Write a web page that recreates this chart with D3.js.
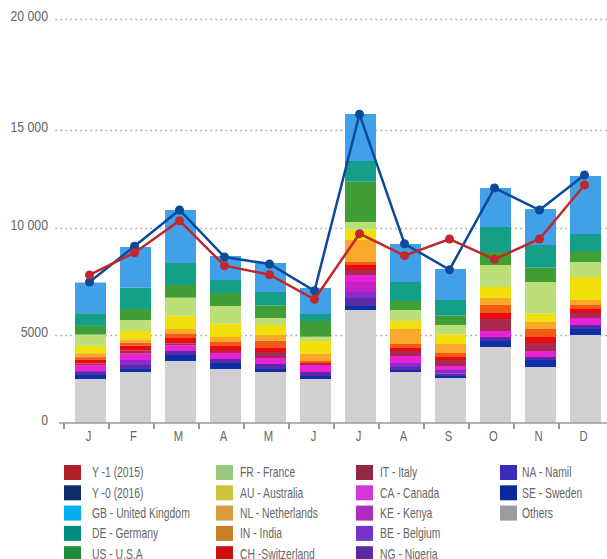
<!DOCTYPE html>
<html>
<head>
<meta charset="utf-8">
<script src="https://cdn.jsdelivr.net/npm/d3@7"></script>
<style>
body { margin: 0; background: #fff; }
svg text { font-family: "Liberation Sans", Arial, sans-serif; fill: #666; }
</style>
</head>
<body>
<svg id="chart" width="607" height="559"></svg>
<script>
'use strict';

// months
var monthKeys = ['Jan', 'Feb', 'Mar', 'Apr', 'May', 'Jun', 'Jul', 'Aug', 'Sep', 'Oct', 'Nov', 'Dec'];
var monthLabels = ['J', 'F', 'M', 'A', 'M', 'J', 'J', 'A', 'S', 'O', 'N', 'D'];

var yTicks = [0, 5000, 10000, 15000, 20000];
var yTickLabels = ['0', '5000', '10 000', '15 000', '20 000'];

// lines
var yearPrev = [7804, 8846, 10372, 8238, 7818, 6668, 9734, 8706, 9486, 8537, 9486, 12194]; // Y -1 (2015)
var yearCur = [7477, 9145, 10918, 8645, 8318, 7070, 15707, 9266, 8051, 12041, 10918, 12704]; // Y -0 (2016)

// stacked countries, bottom to top
var others = [2500, 2898, 3523, 3068, 2898, 2500, 6168, 2898, 2557, 4318, 3182, 5000];
var se = [227, 170, 341, 341, 170, 171, 187, 113, 114, 341, 398, 280];
var na = [0, 0, 0, 0, 0, 0, 0, 0, 0, 0, 0, 0];
var ng = [220, 228, 227, 227, 284, 227, 374, 171, 153, 228, 170, 187];
var be = [0, 284, 0, 0, 0, 0, 280, 227, 187, 0, 0, 0];
var ke = [0, 0, 0, 0, 0, 0, 468, 0, 0, 0, 0, 0];
var ca = [340, 358, 324, 341, 341, 398, 327, 398, 228, 300, 341, 327];
var it = [95, 170, 114, 114, 341, 57, 233, 284, 341, 561, 455, 234];
var ch = [205, 284, 301, 284, 227, 57, 234, 170, 170, 280, 341, 187];
var inn = [153, 171, 217, 227, 415, 114, 140, 228, 227, 374, 393, 187];
var nl = [227, 193, 233, 285, 324, 398, 1028, 791, 512, 327, 327, 234];
var au = [415, 431, 622, 641, 467, 738, 482, 374, 544, 514, 388, 1074];
var fr = [641, 514, 841, 827, 327, 245, 385, 514, 434, 1028, 1482, 701];
var us = [402, 514, 594, 608, 594, 750, 2056, 421, 435, 608, 668, 514];
var de = [593, 995, 1028, 607, 621, 327, 1056, 888, 734, 1172, 1061, 795];
var gb = [1434, 1902, 2553, 1122, 1356, 1215, 2303, 1775, 1448, 1990, 1763, 2933];

var seriesKeys = ['Others', 'SE', 'NA', 'NG', 'BE', 'KE', 'CA', 'IT', 'CH', 'IN', 'NL', 'AU', 'FR', 'US', 'DE', 'GB'];
var seriesValues = [others, se, na, ng, be, ke, ca, it, ch, inn, nl, au, fr, us, de, gb];
var barColors = ['#d1cfd1', '#0a2fa8', '#3a2cb4', '#5a2aa8', '#8a2ccc', '#c820c8', '#e922d8', '#a92a4e',
    '#e80c12', '#f05a14', '#f8a82a', '#f2e00c', '#bcdf78', '#3f9e36', '#159e88', '#42a0e8'];

// legend, column by column
var legendLabels = ['Y -1 (2015)', 'Y -0 (2016)', 'GB - United Kingdom', 'DE - Germany', 'US - U.S.A',
    'FR - France', 'AU - Australia', 'NL - Netherlands', 'IN - India', 'CH -Switzerland',
    'IT - Italy', 'CA - Canada', 'KE - Kenya', 'BE - Belgium', 'NG - Nigeria',
    'NA - Namil', 'SE - Sweden', 'Others'];
var legendColors = ['#b01e26', '#0c2d6c', '#00b0f0', '#008c80', '#1e8c3a',
    '#98c87c', '#ccc43a', '#d89e3c', '#c87e22', '#cc1010',
    '#902840', '#d038d8', '#b02cc0', '#7434cc', '#5a2ca0',
    '#3a2cb8', '#0a2a9c', '#9c9ca0'];

var svg = d3.select('#chart');

var x = d3.scaleBand()
    .domain(monthKeys)
    .range([64, 612])
    .paddingInner(0.311)
    .paddingOuter(0.2445);

var y = d3.scaleLinear()
    .domain(yTicks)
    .range([423, 335, 228, 130, 19]);

// dotted grid
svg.append('g')
    .attr('transform', 'translate(607,0)')
    .call(d3.axisLeft(y).tickValues(yTicks.slice(1)).tickSize(555).tickFormat(''))
    .call(function(g) { g.select('.domain').remove(); })
    .selectAll('line')
        .attr('stroke', '#aaa')
        .attr('stroke-width', 1.7)
        .attr('stroke-dasharray', '1.7,3.3');

// y labels (condensed look)
svg.append('g')
    .attr('transform', 'translate(48,-3)')
    .call(d3.axisLeft(y).tickValues(yTicks).tickSize(0).tickPadding(0)
        .tickFormat(function(d, i) { return yTickLabels[i]; }))
    .call(function(g) { g.select('.domain').remove(); })
    .selectAll('text')
        .attr('font-size', 15)
        .attr('fill', '#666')
        .attr('transform', 'scale(0.82,1)');

// stacked bars
var table = monthKeys.map(function(m, i) {
    var row = {month: m};
    seriesKeys.forEach(function(k, j) { row[k] = seriesValues[j][i]; });
    return row;
});
var stacked = d3.stack().keys(seriesKeys)(table);

svg.append('g').selectAll('g')
    .data(stacked)
    .enter()
    .append('g')
        .attr('fill', function(d, i) { return barColors[i]; })
    .selectAll('rect')
    .data(function(d) { return d; })
    .enter()
    .append('rect')
        .attr('x', function(d) { return x(d.data.month); })
        .attr('y', function(d) { return y(d[1]); })
        .attr('width', x.bandwidth())
        .attr('height', function(d) { return y(d[0]) - y(d[1]); });

// x axis
svg.append('line')
    .attr('x1', 59).attr('x2', 607)
    .attr('y1', 423).attr('y2', 423)
    .attr('stroke', '#9a9a9a')
    .attr('stroke-width', 1.5);

svg.append('g').selectAll('rect')
    .data(monthKeys)
    .enter()
    .append('rect')
        .attr('x', function(d) { return x(d) - 11 - 1; })
        .attr('y', 423)
        .attr('width', 2)
        .attr('height', 6)
        .attr('fill', '#9a9a9a');

svg.append('g')
    .attr('transform', 'translate(-2,423)')
    .call(d3.axisBottom(x).tickSize(0).tickPadding(7)
        .tickFormat(function(d, i) { return monthLabels[i]; }))
    .call(function(g) { g.select('.domain').remove(); })
    .selectAll('text')
        .attr('font-size', 15)
        .attr('fill', '#666')
        .attr('transform', 'scale(0.75,1)');

// lines
var cx = function(d, i) { return x(monthKeys[i]) + x.bandwidth() / 2 - 1; };
var lineGen = d3.line()
    .x(cx)
    .y(function(d) { return y(d); });

function drawLine(values, color) {
    var g = svg.append('g');
    g.append('path')
        .datum(values)
        .attr('d', lineGen)
        .attr('fill', 'none')
        .attr('stroke', color)
        .attr('stroke-width', 2.5);
    g.selectAll('circle')
        .data(values)
        .enter()
        .append('circle')
            .attr('cx', cx)
            .attr('cy', function(d) { return y(d); })
            .attr('r', 4.5)
            .attr('fill', color);
}
drawLine(yearCur, '#0b4a9a');
drawLine(yearPrev, '#c0282e');

// legend
var colX = [64, 216, 356, 500];
var textX = [92, 240, 380, 522];
var legend = svg.append('g').selectAll('g')
    .data(legendLabels)
    .enter()
    .append('g')
        .attr('transform', function(d, i) {
            return 'translate(0,' + (465 + (i % 5) * 20.3) + ')';
        });
legend.append('rect')
    .attr('x', function(d, i) { return colX[Math.floor(i / 5)]; })
    .attr('width', 17)
    .attr('height', 15)
    .attr('fill', function(d, i) { return legendColors[i]; });
legend.append('text')
    .attr('transform', function(d, i) {
        return 'translate(' + textX[Math.floor(i / 5)] + ',7.5) scale(0.74,1)';
    })
    .attr('dy', '0.35em')
    .attr('font-size', 14)
    .attr('fill', '#666')
    .text(function(d) { return d; });
</script>
</body>
</html>
